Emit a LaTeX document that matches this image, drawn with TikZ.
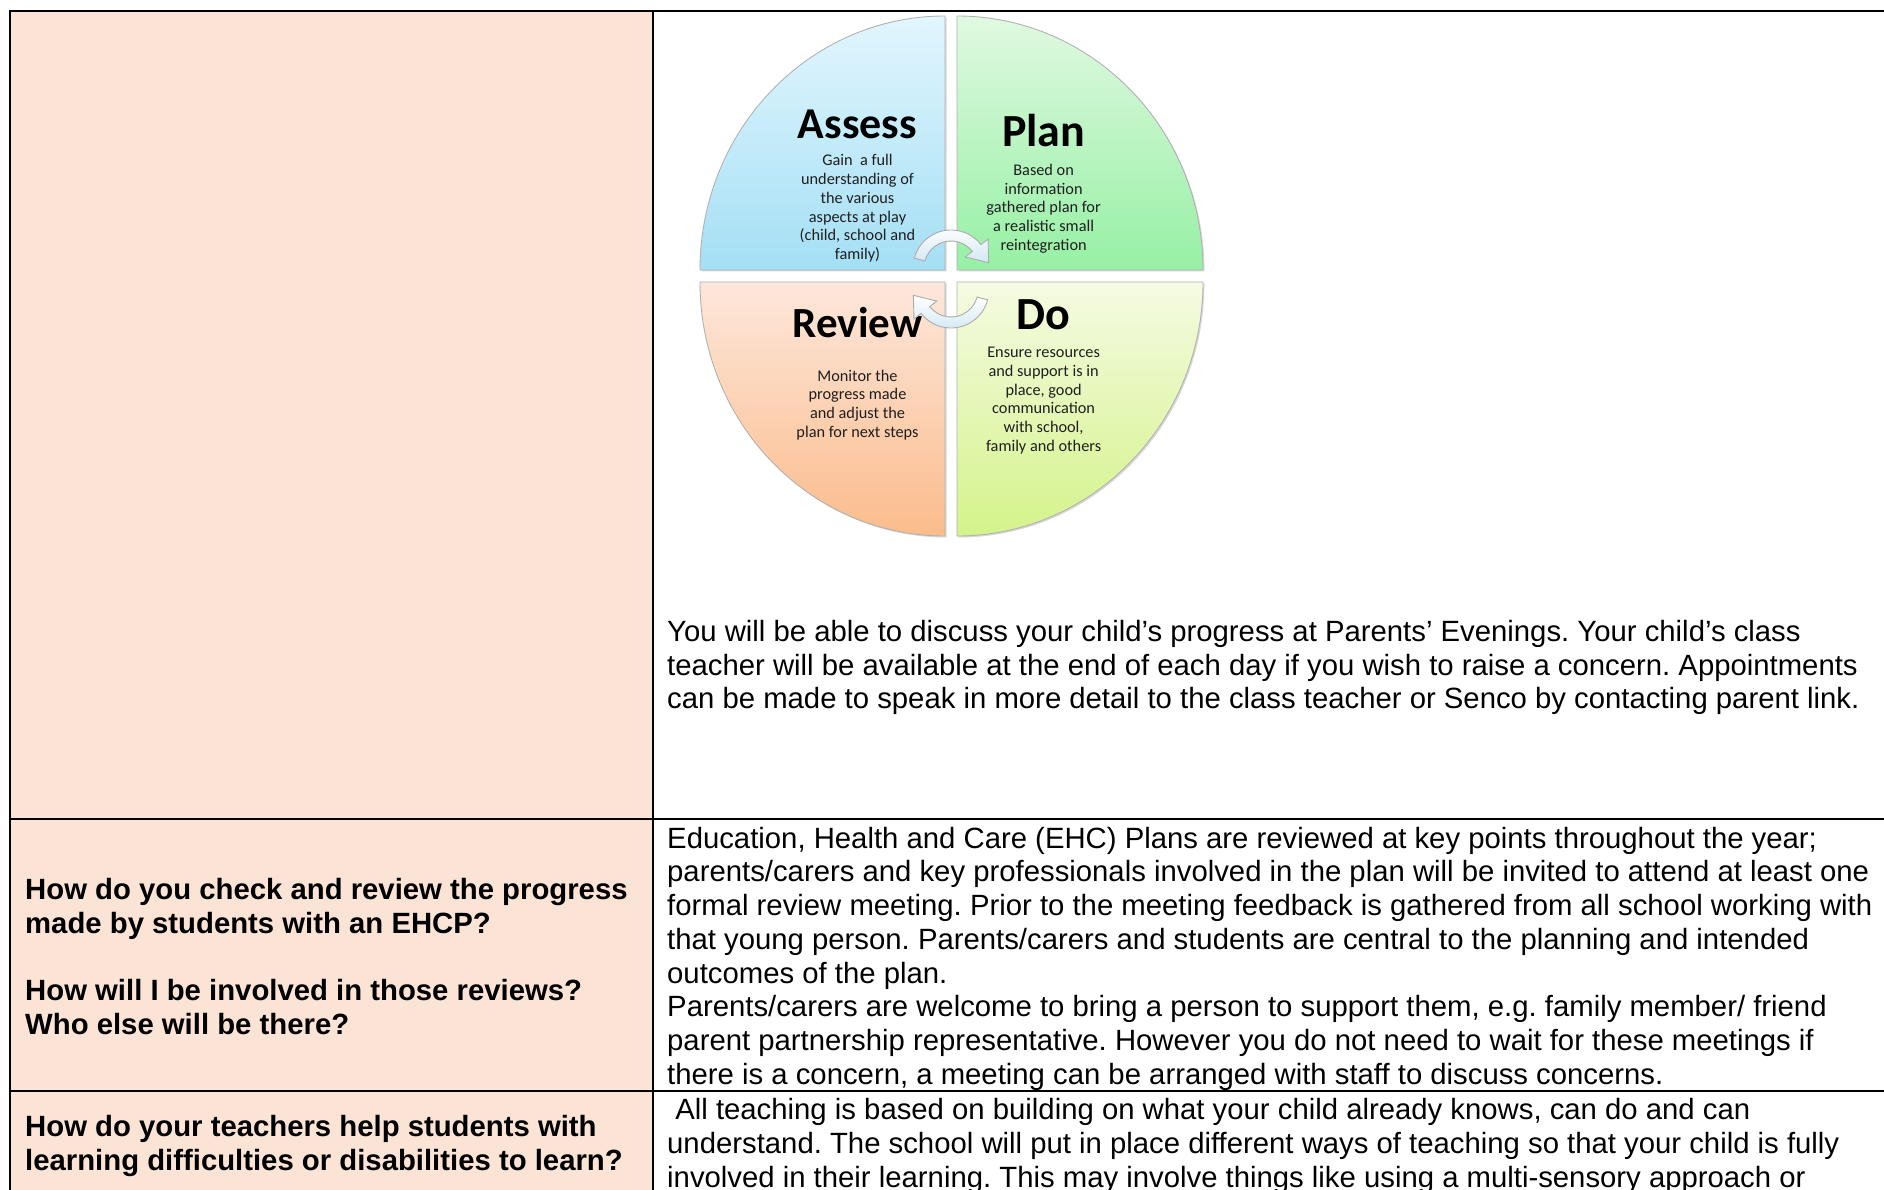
\documentclass[tikz,border=0pt]{standalone}
\usepackage{fontspec}
\setmainfont{Liberation Sans}
\newfontfamily\calfont{Carlito}
\usetikzlibrary{shadows}
\definecolor{peach}{HTML}{FBE4D5}
\definecolor{asT}{HTML}{E2F6FD}\definecolor{asB}{HTML}{A4DFF5}
\definecolor{plT}{HTML}{E0F9E1}\definecolor{plB}{HTML}{96F0A4}
\definecolor{rvT}{HTML}{FDE7DB}\definecolor{rvB}{HTML}{FBBC8C}
\definecolor{doT}{HTML}{F5FBE2}\definecolor{doB}{HTML}{D4F38A}
\definecolor{arB}{HTML}{D3E8F3}
\frenchspacing
\begin{document}
\begin{tikzpicture}[x=1pt,y=-1pt,
  tx/.style={anchor=base west, inner sep=0pt, font=\fontsize{29.3}{33.7}\selectfont},
  bx/.style={anchor=base west, inner sep=0pt, font=\fontsize{29.3}{33.7}\selectfont\bfseries},
  ttl/.style={anchor=base, inner sep=0pt, font=\calfont\bfseries\fontsize{44}{50}\selectfont},
  bd/.style={anchor=base, inner sep=0pt, text=black!88, font=\calfont\fontsize{16.3}{18.8}\selectfont},
  quad/.style={draw=gray!60, line width=0.9pt, drop shadow={shadow xshift=1.5pt, shadow yshift=-1.5pt, opacity=0.3}},
  cyc/.style={draw=gray!65, line width=0.9pt, top color=white, bottom color=arB},
  rule/.style={line width=2.4pt},
  thinrule/.style={line width=1.4pt}]
\useasboundingbox (0,0) rectangle (1884,1190);
\clip (0,0) rectangle (1884,1190);
\fill[white] (0,0) rectangle (1884,1190);
\fill[peach] (10,11) rectangle (653,1200);
% table rules
\draw[rule] (10,1200) -- (10,11) -- (665,11);
\draw[thinrule] (665,11) -- (1230,11);
\draw[rule] (1230,11) -- (1890,11);
\draw[thinrule] (653,11) -- (653,1200);
\draw[rule] (10,819) -- (1890,819);
\draw[rule] (10,1091) -- (1890,1091);
% quadrants
\path[quad, top color=asT, bottom color=asB] (945,270) -- (700,270) arc[start angle=180, end angle=270, x radius=245, y radius=254] -- cycle;
\path[quad, top color=plT, bottom color=plB] (957,270) -- (957,16) arc[start angle=270, end angle=360, x radius=246, y radius=254] -- cycle;
\path[quad, top color=rvT, bottom color=rvB] (945,282) -- (945,536) arc[start angle=90, end angle=180, x radius=245, y radius=254] -- cycle;
\path[quad, top color=doT, bottom color=doB] (957,282) -- (1203,282) arc[start angle=0, end angle=90, x radius=246, y radius=254] -- cycle;
% titles
\node[ttl] (tA) at (857.5,138.6) {Assess};
\node[ttl, font=\calfont\bfseries\fontsize{46}{50}\selectfont] (tP) at (1043.6,147) {Plan};
\node[ttl, font=\calfont\bfseries\fontsize{43}{50}\selectfont] (tR) at (857.5,337.5) {Review};
\node[ttl, font=\calfont\bfseries\fontsize{46}{50}\selectfont] (tD) at (1043.6,329) {Do};
% bodies
\foreach \t [count=\i from 0] in {Gain \ a full, understanding of, the various, aspects at play, {(child, school and}, family)}
  \node[bd, name=ba\i] at (857.5,{166+18.7*\i}) {\t};
\foreach \t [count=\i from 0] in {Based on, information, gathered plan for, a realistic small, reintegration}
  \node[bd, name=bp\i] at (1043.6,{175.4+18.8*\i}) {\t};
\foreach \t [count=\i from 0] in {Monitor the, progress made, and adjust the, plan for next steps}
  \node[bd, name=br\i] at (857.5,{381+18.8*\i}) {\t};
\foreach \t [count=\i from 0] in {Ensure resources, and support is in, {place, good}, communication, {with school,}, family and others}
  \node[bd, name=bdo\i] at (1043.6,{357.5+18.8*\i}) {\t};
% cycle arrows
\path[cyc, shift={(951,268)}] (195:38) arc[start angle=195, end angle=322, radius=38] -- (322:47) -- (352:38) -- (322:18) -- (322:27) arc[start angle=322, end angle=195, radius=27] -- cycle;
\path[cyc, rotate around={180:(951,279)}, shift={(951,268)}] (195:38) arc[start angle=195, end angle=322, radius=38] -- (322:47) -- (352:38) -- (322:18) -- (322:27) arc[start angle=322, end angle=195, radius=27] -- cycle;
% row 1 text
\node[tx] (r1a) at (667,641.5) {You will be able to discuss your child’s progress at Parents’ Evenings. Your child’s class};
\node[tx] (r1b) at (667,675) {teacher will be available at the end of each day if you wish to raise a concern. Appointments};
\node[tx] (r1c) at (667,708.5) {can be made to speak in more detail to the class teacher or Senco by contacting parent link.};
% row 2
\node[bx] (q2a) at (25,899.6) {How do you check and review the progress};
\node[bx] (q2b) at (25,933.3) {made by students with an EHCP?};
\node[bx] (q2c) at (25,1000.5) {How will I be involved in those reviews?};
\node[bx] (q2d) at (25,1034.2) {Who else will be there?};
\node[tx] (a2a) at (667,848) {Education, Health and Care (EHC) Plans are reviewed at key points throughout the year;};
\node[tx] (a2b) at (667,881.75) {parents/carers and key professionals involved in the plan will be invited to attend at least one};
\node[tx] (a2c) at (667,915.5) {formal review meeting. Prior to the meeting feedback is gathered from all school working with};
\node[tx] (a2d) at (667,949.25) {that young person. Parents/carers and students are central to the planning and intended};
\node[tx] (a2e) at (667,983) {outcomes of the plan.};
\node[tx] (a2f) at (667,1016.75) {Parents/carers are welcome to bring a person to support them, e.g. family member/ friend};
\node[tx] (a2g) at (667,1050.5) {parent partnership representative. However you do not need to wait for these meetings if};
\node[tx] (a2h) at (667,1084.25) {there is a concern, a meeting can be arranged with staff to discuss concerns.};
% row 3
\node[bx] (q3a) at (25,1136.3) {How do your teachers help students with};
\node[bx] (q3b) at (25,1170) {learning difficulties or disabilities to learn?};
\node[tx] (a3a) at (667,1119.5) {\ All teaching is based on building on what your child already knows, can do and can};
\node[tx] (a3b) at (667,1153) {understand. The school will put in place different ways of teaching so that your child is fully};
\node[tx] (a3c) at (667,1187) {involved in their learning. This may involve things like using a multi-sensory approach or};
\end{tikzpicture}
\end{document}
